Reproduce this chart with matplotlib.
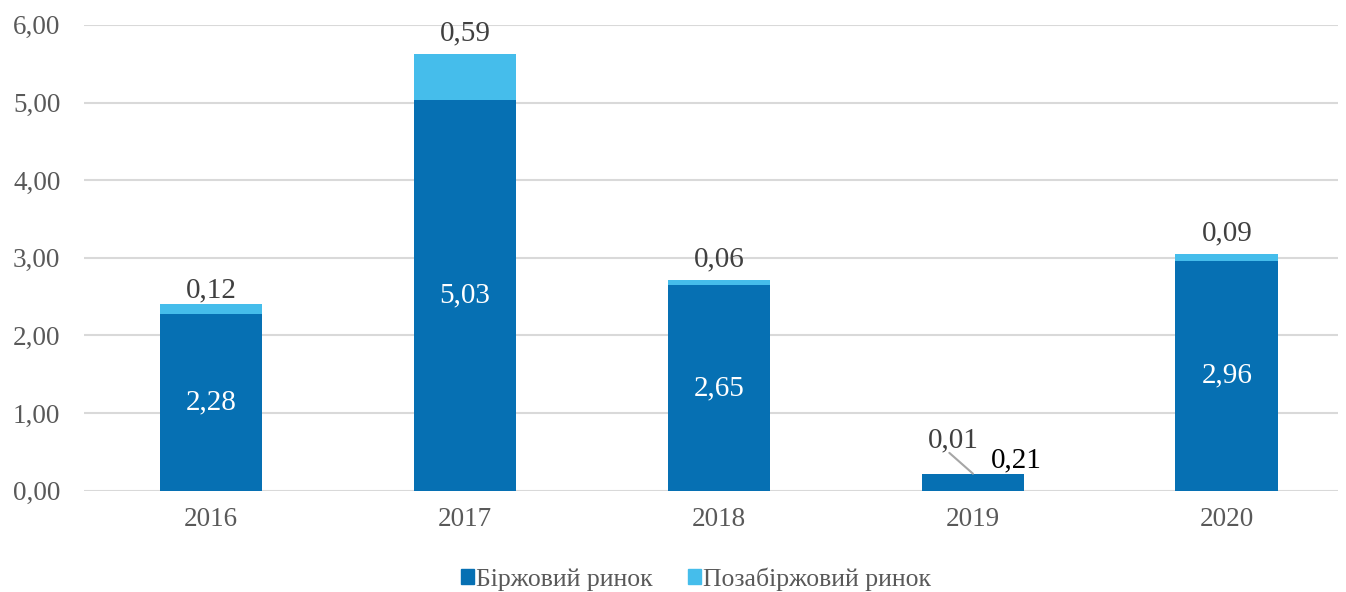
import numpy as np
import matplotlib.pyplot as plt
from matplotlib.patches import Patch

years = ["2016", "2017", "2018", "2019", "2020"]
exchange = [2.28, 5.03, 2.65, 0.21, 2.96]
otc = [0.12, 0.59, 0.06, 0.01, 0.09]

dark = "#0670b3"
light = "#45bdeb"
grey = "#595959"
label_grey = "#404040"


def fmt(v):
    return f"{v:.2f}".replace(".", ",")


plt.rcParams['font.family'] = ['Liberation Serif', 'DejaVu Serif']

fig = plt.figure(figsize=(13.46, 5.92), dpi=100)
ax = fig.add_axes([0.0624, 0.171, 0.9316, 0.787])

x = np.arange(len(years))
w = 0.405
ax.bar(x, exchange, w, color=dark, zorder=3)
ax.bar(x, otc, w, bottom=exchange, color=light, zorder=3)

for i in range(len(years)):
    top = exchange[i] + otc[i]
    if i == 3:
        # small 2019 bar: labels moved aside
        ax.annotate(fmt(exchange[i]), (x[i], exchange[i]), xytext=(31, 10),
                    textcoords="offset points", ha="center", va="center",
                    fontsize=21, color="black")
        ax.annotate(fmt(otc[i]), (x[i], top), xytext=(-14, 24),
                    textcoords="offset points", ha="center", va="center",
                    fontsize=21, color=label_grey)
        ax.annotate("", (x[i], top), xytext=(-17, 15),
                    textcoords="offset points",
                    arrowprops=dict(arrowstyle="-", color="#a6a6a6", lw=1.5,
                                    shrinkA=0, shrinkB=0))
    else:
        ax.text(x[i], exchange[i] / 2, fmt(exchange[i]), ha="center", va="center",
                fontsize=21, color="white", zorder=4)
        dy = 10 if i == 0 else 15
        ax.annotate(fmt(otc[i]), (x[i], top), xytext=(0, dy),
                    textcoords="offset points", ha="center", va="center",
                    fontsize=21, color=label_grey)

ax.set_xlim(-0.5, 4.437)
ax.set_ylim(0, 6)
ax.set_yticks(np.arange(0, 7, 1))
ax.set_yticklabels([fmt(v) for v in range(7)])
ax.set_xticks(x)
ax.set_xticklabels(years)
ax.tick_params(axis="both", length=0, labelsize=19.5, labelcolor=grey)
ax.tick_params(axis="y", pad=17)
ax.tick_params(axis="x", pad=12)
ax.yaxis.grid(True, color="#d9d9d9", lw=1.5, zorder=0)
for s in ax.spines.values():
    s.set_visible(False)

handles = [Patch(color=dark, label="Біржовий ринок"),
           Patch(color=light, label="Позабіржовий ринок")]
leg = fig.legend(handles=handles, loc="center", bbox_to_anchor=(0.517, 0.022), ncol=2,
                 frameon=False, fontsize=18.5, handlelength=0.5, handleheight=0.5,
                 handletextpad=0.08, columnspacing=1.4)
for t in leg.get_texts():
    t.set_color(grey)

fig.savefig("out.png", dpi=100)
